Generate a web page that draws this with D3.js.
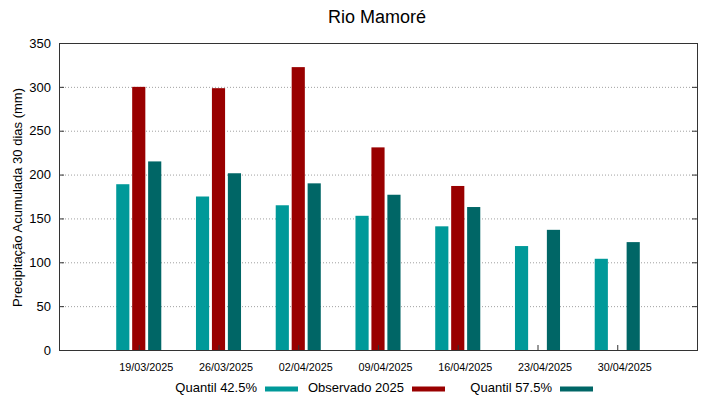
<!DOCTYPE html>
<html>
<head>
<meta charset="utf-8">
<script src="https://cdn.jsdelivr.net/npm/d3@7"></script>
<style>
  body { margin: 0; background: #fff; }
  text { font-family: "Liberation Sans", Arial, sans-serif; fill: #000; }
</style>
</head>
<body>
<script>
// chart data
var dates = ["19/03/2025", "26/03/2025", "02/04/2025", "09/04/2025", "16/04/2025", "23/04/2025", "30/04/2025"];
var q425 = [189, 175, 165, 153, 141, 118.5, 104];
var observado = [300, 298.5, 322.5, 231, 187, null, null];
var q575 = [215, 201.5, 190, 177, 163, 137, 123];
var yTicks = [0, 50, 100, 150, 200, 250, 300, 350];

var series = [
    {name: "Quantil 42.5%", values: q425, color: "#009999", off: -0.2},
    {name: "Observado 2025", values: observado, color: "#990000", off: 0},
    {name: "Quantil 57.5%", values: q575, color: "#006666", off: 0.2}
];

var width = 719,
    height = 399;
var plotL = 59, plotR = 697, plotT = 43, plotB = 350;

var svg = d3.select("body").append("svg")
    .attr("width", width)
    .attr("height", height);

var x = d3.scaleLinear().domain([-1, 7]).range([plotL, plotR]);
var y = d3.scaleLinear().domain([0, 350]).range([plotB, plotT]);
var barW = 0.165;

// grid lines
svg.append("g")
    .selectAll("line")
    .data(yTicks.filter(function(d) { return d > 0 && d < 350; }))
    .enter().append("line")
    .attr("x1", plotL).attr("x2", plotR)
    .attr("y1", function(d) { return y(d) + 0.5; })
    .attr("y2", function(d) { return y(d) + 0.5; })
    .attr("stroke", "#a0a0a0")
    .attr("stroke-width", 1)
    .attr("stroke-dasharray", "1,2");

// bars
series.forEach(function(s) {
    svg.append("g")
        .selectAll("rect")
        .data(s.values.map(function(v, i) { return {i: i, v: v}; })
              .filter(function(d) { return d.v != null; }))
        .enter().append("rect")
        .attr("x", function(d) { return x(d.i + s.off - barW / 2); })
        .attr("width", function(d) { return x(barW) - x(0); })
        .attr("y", function(d) { return y(d.v); })
        .attr("height", function(d) { return y(0) - y(d.v); })
        .attr("fill", s.color);
});

// y axis left (inward ticks) and mirrored on the right
var yAxisL = d3.axisLeft(y).tickValues(yTicks).tickSize(-5).tickPadding(8);
var gl = svg.append("g").attr("transform", "translate(" + plotL + ",0)").call(yAxisL);
gl.selectAll("text").style("font-size", "13px");

var yAxisR = d3.axisRight(y).tickValues(yTicks).tickSize(-5).tickFormat("");
svg.append("g").attr("transform", "translate(" + plotR + ",0)").call(yAxisR);

// x axis with inward ticks at group centers
var xAxis = d3.axisBottom(x).tickValues(d3.range(dates.length))
    .tickFormat(function(i) { return dates[i]; })
    .tickSize(-5).tickPadding(13);
var gx = svg.append("g").attr("transform", "translate(0," + plotB + ")").call(xAxis);
gx.selectAll("text").style("font-size", "10.8px").attr("x", 7);

svg.selectAll(".domain").remove();
svg.selectAll(".tick line").attr("stroke", "#333");

// frame
svg.append("rect")
    .attr("x", plotL + 0.5).attr("y", plotT + 0.5)
    .attr("width", plotR - plotL).attr("height", plotB - plotT)
    .attr("fill", "none").attr("stroke", "#333").attr("stroke-width", 1);

// title
svg.append("text")
    .attr("x", 377).attr("y", 23)
    .attr("text-anchor", "middle")
    .style("font-size", "18px")
    .text("Rio Mamoré");

// y label
svg.append("text")
    .attr("transform", "translate(21.5," + ((plotT + plotB) / 2 + 1) + ") rotate(-90)")
    .attr("text-anchor", "middle")
    .style("font-size", "13px")
    .text("Precipitação Acumulada 30 dias (mm)");

// legend
var legendX = [257, 404, 552];
var legend = svg.append("g")
    .selectAll("g")
    .data(series)
    .enter().append("g")
    .attr("transform", function(d, i) { return "translate(" + legendX[i] + ",0)"; });

legend.append("text")
    .attr("x", 0).attr("y", 392)
    .attr("text-anchor", "end")
    .style("font-size", "13px")
    .text(function(d) { return d.name; });

legend.append("rect")
    .attr("x", 8).attr("y", 386.5)
    .attr("width", 33).attr("height", 5)
    .attr("fill", function(d) { return d.color; });
</script>
</body>
</html>
